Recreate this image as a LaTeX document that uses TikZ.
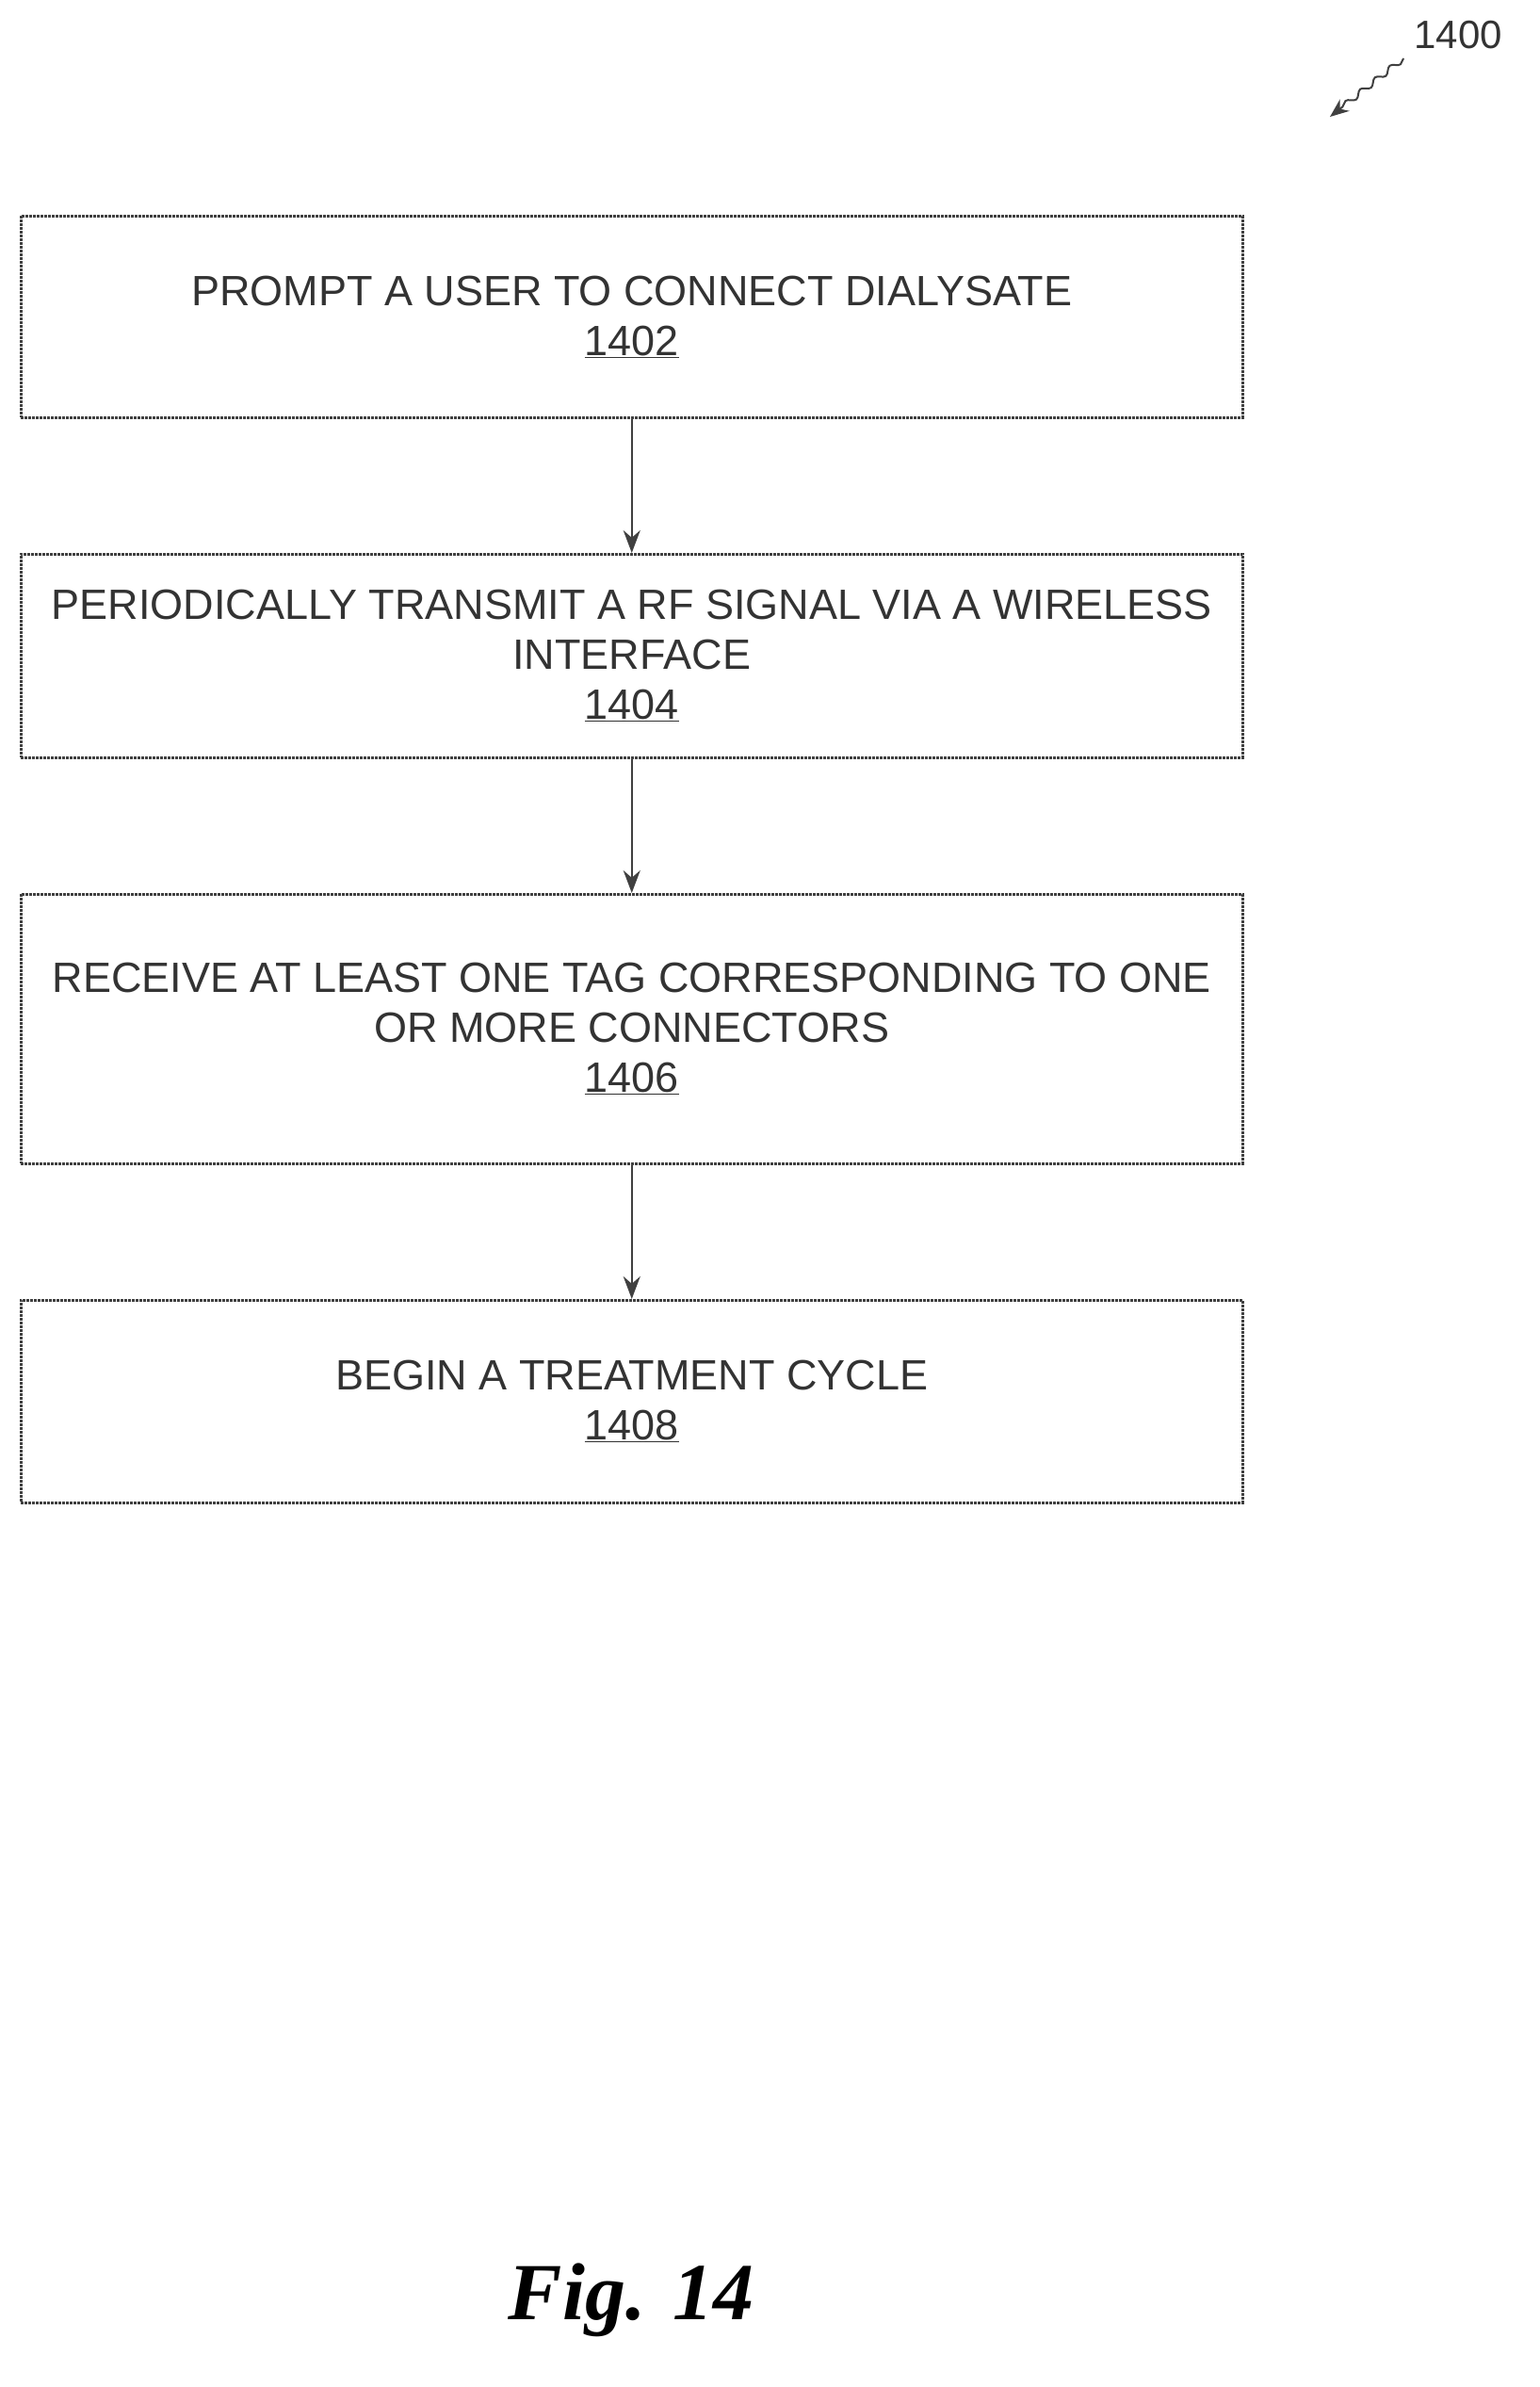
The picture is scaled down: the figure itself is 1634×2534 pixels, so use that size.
\documentclass[tikz,border=0pt]{standalone}
\usepackage{fontspec}
\setmainfont{Liberation Sans}
\newfontfamily\figfont{Liberation Serif}
\usetikzlibrary{arrows.meta,decorations.pathmorphing}
\begin{document}
\begin{tikzpicture}[x=1pt,y=1pt,
  stepbox/.style={draw=black!75,line width=2.5pt,dash pattern=on 3pt off 1pt,minimum width=1297pt,anchor=north west,inner sep=0pt,align=center,font=\fontsize{45}{53}\selectfont,text=black!80},
  conn/.style={draw=black!75,line width=2.5pt,-{Stealth[length=24pt,width=18pt]}}]
\useasboundingbox (0,0) rectangle (1634,-2534);
\node[stepbox,minimum height=214pt] (b1) at (21,-228) {PROMPT A USER TO CONNECT DIALYSATE\\\underline{1402}};
\node[stepbox,minimum height=216pt] (b2) at (21,-587) {PERIODICALLY TRANSMIT A RF SIGNAL VIA A WIRELESS\\INTERFACE\\\underline{1404}};
\node[stepbox,minimum height=286pt] (b3) at (21,-948) {RECEIVE AT LEAST ONE TAG CORRESPONDING TO ONE\\OR MORE CONNECTORS\\\underline{1406}};
\node[stepbox,minimum height=215pt] (b4) at (21,-1379) {BEGIN A TREATMENT CYCLE\\\underline{1408}};
\draw[conn] (b1) -- (b2);
\draw[conn] (b2) -- (b3);
\draw[conn] (b3) -- (b4);
\node[font=\fontsize{42}{48}\selectfont,text=black!80] (lbl) at (1548,-37) {1400};
\coordinate (tip) at (1412,-124);
\draw[black!75,line width=2pt,-{Stealth[length=20pt,width=16pt]},decorate,decoration={snake,amplitude=3pt,segment length=20pt,post length=16pt}] (1490,-62) -- (tip);
\node[font=\figfont\bfseries\itshape\fontsize{86}{96}\selectfont] (fig) at (670,-2442) {Fig. 14};
\end{tikzpicture}
\end{document}
